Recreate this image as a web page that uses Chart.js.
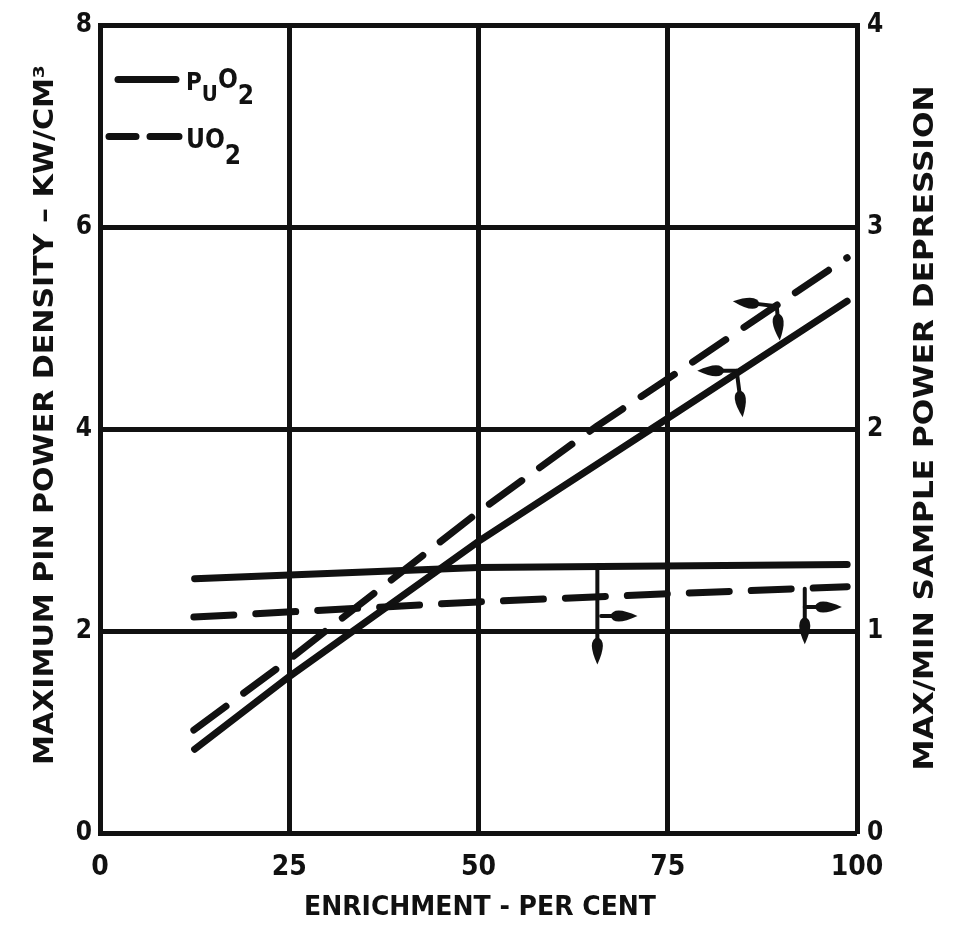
<!DOCTYPE html>
<html>
<head>
<meta charset="utf-8">
<script src="https://cdn.jsdelivr.net/npm/chart.js@4.4.1/dist/chart.umd.min.js"></script>
<style>
  html, body { margin: 0; padding: 0; background: #fff; }
  canvas { display: block; }
</style>
</head>
<body>
<canvas id="chart" width="954" height="931"></canvas>
<script>
// enrichment (per cent) vs max pin power density (kW/cm3), left axis
const enrichPu = [12.5, 25, 50, 75, 98.7];
const densityPu = [0.83, 1.55, 2.89, 4.11, 5.27];
const enrichUo = [12.4, 25, 50, 65.6, 75, 98.7];
const densityUo = [1.02, 1.72, 3.18, 4.03, 4.5, 5.70];

// enrichment vs max/min sample power depression, right axis
const enrichPuRatio = [12.5, 50, 98.7];
const ratioPu = [1.26, 1.315, 1.33];
const enrichUoRatio = [12.4, 50, 75, 98.7];
const ratioUo = [1.07, 1.145, 1.185, 1.22];

// tick labels
const xTicks = [0, 25, 50, 75, 100];
const leftTicks = [0, 2, 4, 6, 8];
const rightTicks = [0, 1, 2, 3, 4];

// small pointer arrows, in data units (x = enrichment, y = left axis)
const arrowMarks = [
  { from: [89.4, 5.22], to: [83.6, 5.27] },
  { from: [89.4, 5.22], to: [89.8, 4.88] },
  { from: [84.1, 4.58], to: [78.9, 4.58] },
  { from: [84.1, 4.58], to: [84.9, 4.12] },
  { from: [65.7, 2.63], to: [65.7, 1.67] },
  { from: [66.2, 2.15], to: [71.0, 2.15] },
  { from: [93.1, 2.42], to: [93.1, 1.87] },
  { from: [93.1, 2.24], to: [98.0, 2.24] }
];

const INK = '#111';
const FONT = '"DejaVu Sans Condensed", "Liberation Sans Narrow", "DejaVu Sans", sans-serif';
const DASH = [40, 22];

const pts = (xs, ys) => xs.map((x, i) => ({ x: x, y: ys[i] }));

function drawArrow(ctx, x1, y1, x2, y2) {
  const ang = Math.atan2(y2 - y1, x2 - x1);
  const headLen = 24, headW = 11;
  const bx = x2 - Math.cos(ang) * headLen, by = y2 - Math.sin(ang) * headLen;
  ctx.beginPath();
  ctx.moveTo(x1, y1);
  ctx.lineTo(bx, by);
  ctx.lineWidth = 4;
  ctx.lineCap = 'round';
  ctx.strokeStyle = INK;
  ctx.stroke();
  const nx = -Math.sin(ang), ny = Math.cos(ang);
  ctx.beginPath();
  ctx.moveTo(x2, y2);
  ctx.quadraticCurveTo(bx + nx * headW, by + ny * headW, bx - Math.cos(ang) * 3, by - Math.sin(ang) * 3);
  ctx.quadraticCurveTo(bx - nx * headW, by - ny * headW, x2, y2);
  ctx.fillStyle = INK;
  ctx.fill();
}

// draw text pieces (for sub/superscripts) left to right
function drawPieces(ctx, x, y, pieces) {
  let cx = x;
  pieces.forEach(p => {
    ctx.font = 'bold ' + p.size + 'px ' + FONT;
    ctx.fillText(p.t, cx, y + p.dy);
    cx += ctx.measureText(p.t).width + (p.gap || 0);
  });
}

function drawFitted(ctx, text, cx, cy, size, length, rot) {
  ctx.save();
  ctx.translate(cx, cy);
  ctx.rotate(rot);
  ctx.font = 'bold ' + size + 'px ' + FONT;
  const w = ctx.measureText(text).width;
  ctx.scale(length / w, 1);
  ctx.textAlign = 'center';
  ctx.textBaseline = 'middle';
  ctx.fillStyle = INK;
  ctx.fillText(text, 0, 0);
  ctx.restore();
}

const extras = {
  id: 'extras',
  afterDatasetsDraw(chart) {
    const { ctx, scales } = chart;
    ctx.save();
    arrowMarks.forEach(a => {
      drawArrow(ctx,
        scales.x.getPixelForValue(a.from[0]), scales.y.getPixelForValue(a.from[1]),
        scales.x.getPixelForValue(a.to[0]), scales.y.getPixelForValue(a.to[1]));
    });
    ctx.restore();
  },
  afterDraw(chart) {
    const { ctx, chartArea: area } = chart;
    ctx.save();
    ctx.fillStyle = INK;
    ctx.strokeStyle = INK;

    // legend
    ctx.lineWidth = 7;
    ctx.lineCap = 'round';
    ctx.beginPath();
    ctx.moveTo(area.left + 18, area.top + 54);
    ctx.lineTo(area.left + 76, area.top + 54);
    ctx.stroke();
    ctx.beginPath();
    ctx.moveTo(area.left + 9, area.top + 111);
    ctx.lineTo(area.left + 36, area.top + 111);
    ctx.moveTo(area.left + 50, area.top + 111);
    ctx.lineTo(area.left + 79, area.top + 111);
    ctx.stroke();
    ctx.textBaseline = 'alphabetic';
    drawPieces(ctx, area.left + 86, area.top + 64, [
      { t: 'P', size: 24, dy: 0 },
      { t: 'U', size: 22, dy: 11 },
      { t: 'O', size: 26, dy: -2 },
      { t: '2', size: 26, dy: 14 }
    ]);
    drawPieces(ctx, area.left + 86, area.top + 122, [
      { t: 'U', size: 26, dy: 0 },
      { t: 'O', size: 26, dy: 0 },
      { t: '2', size: 26, dy: 16 }
    ]);

    // axis titles
    drawFitted(ctx, 'MAXIMUM PIN POWER DENSITY \u2013 KW/CM\u00B3', 46, 415, 27, 700, -Math.PI / 2);
    drawFitted(ctx, 'MAX/MIN SAMPLE POWER DEPRESSION', 926, 428, 27, 685, -Math.PI / 2);
    drawFitted(ctx, 'ENRICHMENT - PER CENT', 480, 908, 26, 352, 0);
    ctx.restore();
  }
};

const lineBase = {
  borderColor: INK,
  borderWidth: 7,
  pointRadius: 0,
  tension: 0,
  fill: false,
  borderCapStyle: 'round'
};

new Chart(document.getElementById('chart'), {
  type: 'line',
  data: {
    datasets: [
      Object.assign({}, lineBase, { label: 'PuO2', data: pts(enrichPu, densityPu), yAxisID: 'y' }),
      Object.assign({}, lineBase, { label: 'UO2', data: pts(enrichUo, densityUo), yAxisID: 'y', borderDash: DASH }),
      Object.assign({}, lineBase, { label: 'PuO2 ratio', data: pts(enrichPuRatio, ratioPu), yAxisID: 'y1' }),
      Object.assign({}, lineBase, { label: 'UO2 ratio', data: pts(enrichUoRatio, ratioUo), yAxisID: 'y1', borderDash: DASH })
    ]
  },
  options: {
    responsive: false,
    animation: false,
    layout: { padding: { top: 24 } },
    plugins: { legend: { display: false }, tooltip: { enabled: false } },
    scales: {
      x: {
        type: 'linear', min: 0, max: 100,
        afterBuildTicks: s => { s.ticks = xTicks.map(v => ({ value: v })); },
        afterFit: s => { s.height = 98; },
        grid: { color: INK, lineWidth: 5, drawTicks: false },
        border: { display: false },
        ticks: { color: INK, padding: 18, font: { family: FONT, size: 28, weight: 'bold' } }
      },
      y: {
        position: 'left', min: 0, max: 8,
        afterBuildTicks: s => { s.ticks = leftTicks.map(v => ({ value: v })); },
        afterFit: s => { s.width = 100; },
        grid: { color: INK, lineWidth: 5, drawTicks: false },
        border: { display: true, color: INK, width: 5 },
        ticks: { color: INK, padding: 8, font: { family: FONT, size: 26, weight: 'bold' } }
      },
      y1: {
        position: 'right', min: 0, max: 4,
        afterBuildTicks: s => { s.ticks = rightTicks.map(v => ({ value: v })); },
        afterFit: s => { s.width = 97; },
        grid: { display: false, drawTicks: false },
        border: { display: true, color: INK, width: 5 },
        ticks: { color: INK, padding: 10, font: { family: FONT, size: 26, weight: 'bold' } }
      }
    }
  },
  plugins: [extras]
});
</script>
</body>
</html>
